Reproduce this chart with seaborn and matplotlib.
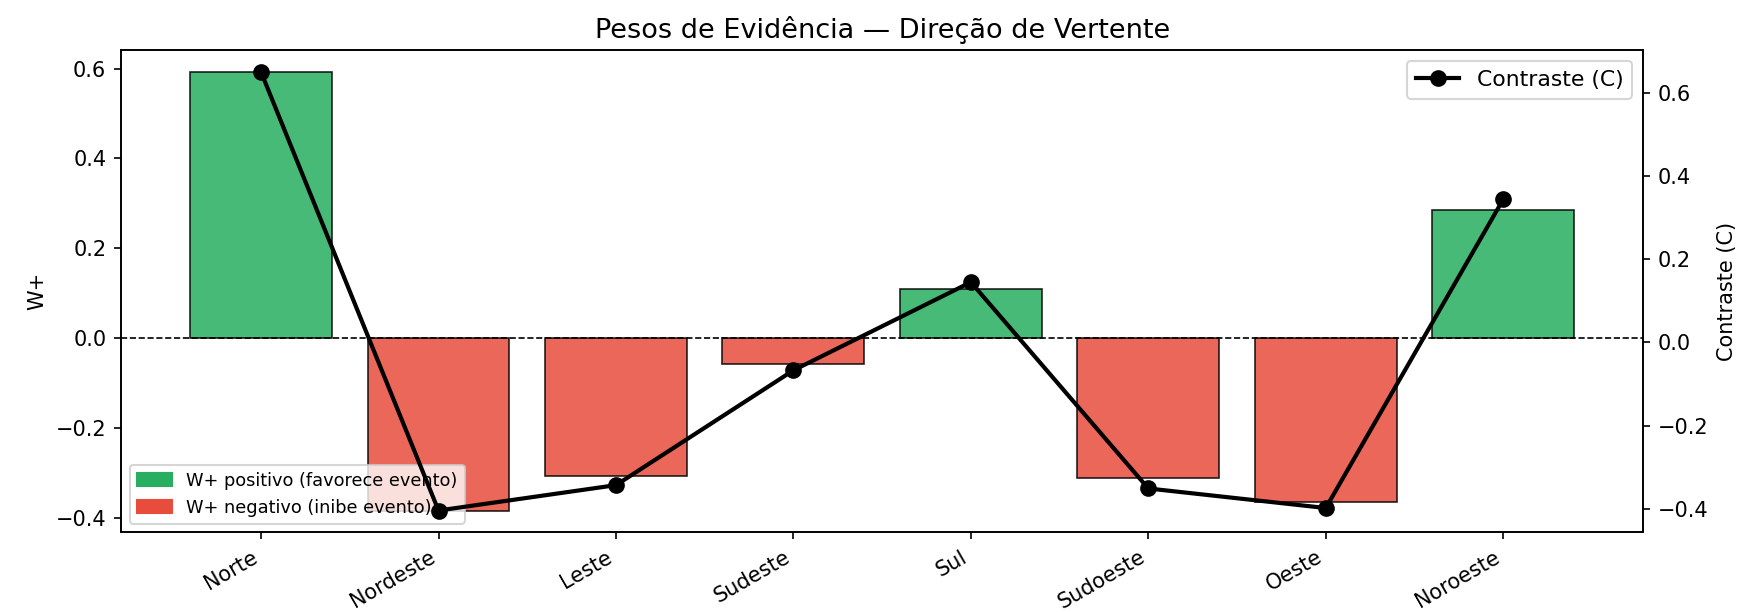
import numpy as np
import matplotlib
matplotlib.use("Agg")
import matplotlib.pyplot as plt
from matplotlib.patches import Patch
import seaborn as sns

# Direction of slope classes and weights of evidence
directions = ["Norte", "Nordeste", "Leste", "Sudeste", "Sul", "Sudoeste", "Oeste", "Noroeste"]
w_plus = [0.592, -0.383, -0.306, -0.058, 0.110, -0.310, -0.365, 0.285]
contrast = [0.650, -0.404, -0.343, -0.067, 0.145, -0.351, -0.398, 0.344]

green = "#27ae60"
red = "#e74c3c"
bar_colors = [green if v > 0 else red for v in w_plus]

fig, ax1 = plt.subplots(figsize=(11.68, 4.08), dpi=150)
fig.subplots_adjust(left=0.069, right=0.938, top=0.918, bottom=0.13)

sns.barplot(x=directions, y=w_plus, hue=directions, palette=bar_colors,
            saturation=1, legend=False, alpha=0.85, edgecolor="black",
            linewidth=0.8, width=0.8, ax=ax1)
ax1.axhline(0, color="black", linestyle="--", linewidth=0.8)
ax1.set_xlim(-0.79, 7.79)
ax1.set_ylabel("W+")
ax1.set_xlabel("")
ax1.set_title("Pesos de Evidência — Direção de Vertente", fontsize=13)
plt.setp(ax1.get_xticklabels(), rotation=30, ha="right")

handles = [Patch(color=green, label="W+ positivo (favorece evento)"),
           Patch(color=red, label="W+ negativo (inibe evento)")]
ax1.legend(handles=handles, loc="lower left", fontsize=8.5)

ax2 = ax1.twinx()
ax2.plot(np.arange(len(directions)), contrast, color="black", marker="o",
         linewidth=2, markersize=7, label="Contraste (C)")
ax2.set_ylabel("Contraste (C)")
ax2.legend(loc="upper right", fontsize=10.5)

plt.savefig("out.png", dpi=150)
